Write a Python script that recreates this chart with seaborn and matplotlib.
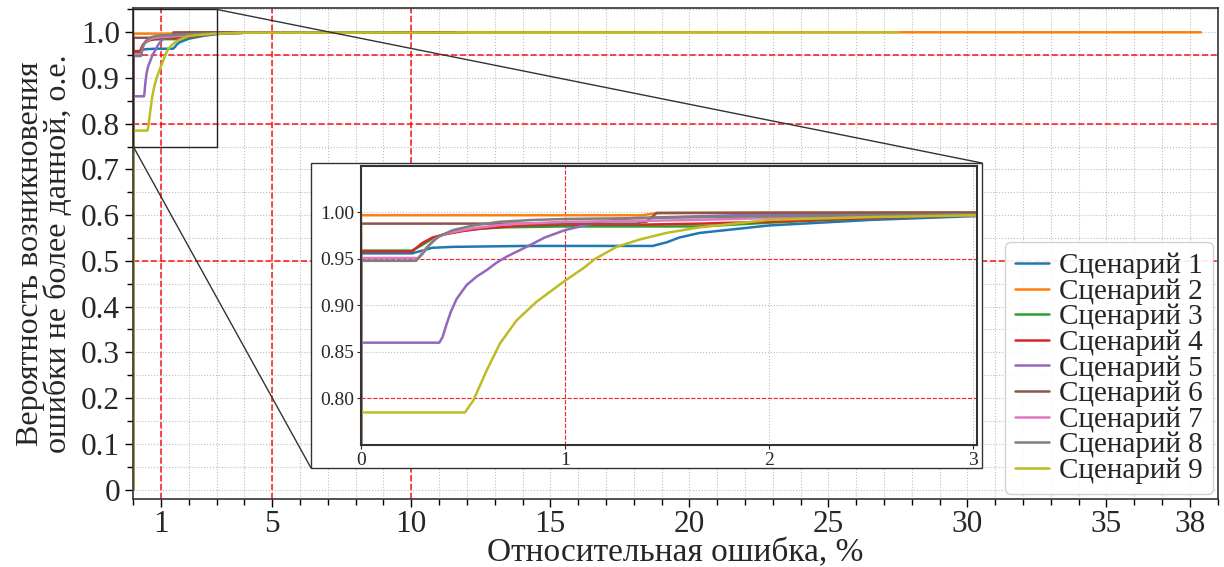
import numpy as np
import pandas as pd
import matplotlib
matplotlib.use("Agg")
import matplotlib.pyplot as plt
import seaborn as sns
from matplotlib.patches import Rectangle, ConnectionPatch
from matplotlib.ticker import MultipleLocator, FixedLocator, FixedFormatter

sns.set_style("white")
plt.rcParams["font.family"] = ["Liberation Serif", "DejaVu Serif"]

# ---------------- data ----------------
scenarios = [f"Сценарий {i}" for i in range(1, 10)]

s1_x = [0, 0, 0.25, 0.30, 0.35, 0.45, 0.80, 1.43, 1.50, 1.56, 1.66, 2.0, 2.5, 3.0, 3.5, 4.5, 12.0]
s1_y = [0, 0.956, 0.956, 0.959, 0.962, 0.963, 0.964, 0.964, 0.968, 0.973, 0.978, 0.986, 0.992, 0.996, 0.998, 1.0, 1.0]

s2_x = [0, 0, 1.38, 1.45, 2.0, 3.0, 38.4]
s2_y = [0, 0.997, 0.997, 0.9993, 0.9997, 1.0, 1.0]

s3_x = [0, 0, 0.25, 0.30, 0.35, 0.40, 0.45, 0.55, 0.70, 1.0, 1.66, 2.0, 2.5, 3.0, 4.0, 7.0]
s3_y = [0, 0.959, 0.959, 0.965, 0.972, 0.976, 0.979, 0.982, 0.984, 0.985, 0.985, 0.989, 0.994, 0.997, 0.999, 1.0]

s4_x = [0, 0, 0.25, 0.30, 0.35, 0.40, 0.50, 0.60, 0.80, 1.0, 1.4, 1.66, 2.0, 2.5, 3.0, 4.0, 9.0]
s4_y = [0, 0.958, 0.958, 0.967, 0.973, 0.976, 0.980, 0.983, 0.986, 0.987, 0.987, 0.988, 0.990, 0.994, 0.997, 0.999, 1.0]

s5_x = [0, 0, 0.384, 0.40, 0.42, 0.44, 0.469, 0.518, 0.567, 0.616, 0.665, 0.714, 0.812, 0.90, 1.0, 1.17, 1.335, 1.66, 2.0, 3.0, 6.0]
s5_y = [0, 0.860, 0.860, 0.866, 0.880, 0.893, 0.907, 0.922, 0.931, 0.938, 0.946, 0.9525, 0.963, 0.973, 0.981, 0.990, 0.994, 0.996, 0.998, 0.999, 1.0]

s6_x = [0, 0, 1.36, 1.37, 1.40, 1.45, 2.0, 3.0, 11.6]
s6_y = [0, 0.988, 0.988, 0.990, 0.990, 0.9995, 0.9998, 1.0, 1.0]

s7_x = [0, 0, 0.28, 0.32, 0.36, 0.40, 0.45, 0.55, 0.70, 1.0, 1.4, 1.66, 2.0, 3.0, 4.0, 8.0]
s7_y = [0, 0.951, 0.951, 0.962, 0.971, 0.976, 0.979, 0.983, 0.987, 0.990, 0.991, 0.992, 0.994, 0.997, 0.999, 1.0]

s8_x = [0, 0, 0.27, 0.30, 0.34, 0.38, 0.45, 0.55, 0.68, 0.85, 1.0, 1.4, 2.0, 3.0, 4.0, 9.2]
s8_y = [0, 0.948, 0.948, 0.955, 0.966, 0.974, 0.981, 0.986, 0.990, 0.992, 0.993, 0.994, 0.996, 0.998, 0.999, 1.0]

s9_x = [0, 0, 0.51, 0.551, 0.616, 0.681, 0.763, 0.861, 1.0, 1.09, 1.147, 1.253, 1.368, 1.498, 1.66, 2.0, 2.5, 3.0, 4.0, 27.5]
s9_y = [0, 0.785, 0.785, 0.798, 0.830, 0.859, 0.884, 0.904, 0.9266, 0.940, 0.950, 0.963, 0.971, 0.978, 0.984, 0.992, 0.995, 0.997, 0.999, 1.0]

xs = [s1_x, s2_x, s3_x, s4_x, s5_x, s6_x, s7_x, s8_x, s9_x]
ys = [s1_y, s2_y, s3_y, s4_y, s5_y, s6_y, s7_y, s8_y, s9_y]

x_ticks = [1, 5, 10, 15, 20, 25, 30, 35, 38]
y_ticks = [0, 0.1, 0.2, 0.3, 0.4, 0.5, 0.6, 0.7, 0.8, 0.9, 1.0]
y_tick_labels = ["0", "0.1", "0.2", "0.3", "0.4", "0.5", "0.6", "0.7", "0.8", "0.9", "1.0"]
inset_x_ticks = [0, 1, 2, 3]
inset_y_ticks = [0.80, 0.85, 0.90, 0.95, 1.00]
inset_y_labels = ["0.80", "0.85", "0.90", "0.95", "1.00"]
red_v = [1, 5, 10]
red_h = [0.5, 0.8, 0.95]

rows = []
for name, x, y in zip(scenarios, xs, ys):
    for xv, yv in zip(x, y):
        rows.append({"err": xv, "p": yv, "scenario": name})
df = pd.DataFrame(rows)

palette = dict(zip(scenarios, sns.color_palette("tab10", 9)))

# ---------------- figure ----------------
fig = plt.figure(figsize=(12.24, 5.67), dpi=100)
ax = fig.add_axes([0.1089, 0.1205, 0.8858, 0.8649])

grid_kw = dict(color="#bdbdbd", linestyle=":", linewidth=0.8)
ax.set_xlim(0, 39)
ax.set_ylim(-0.02, 1.0525)
ax.xaxis.set_major_locator(FixedLocator(x_ticks))
ax.xaxis.set_minor_locator(MultipleLocator(1))
ax.yaxis.set_major_locator(FixedLocator(y_ticks))
ax.yaxis.set_major_formatter(FixedFormatter(y_tick_labels))
ax.yaxis.set_minor_locator(MultipleLocator(0.05))
ax.grid(which="both", **grid_kw)
ax.set_axisbelow(True)

for v in red_v:
    ax.axvline(v, color="red", ls="--", lw=1.2, alpha=0.85, zorder=1.5)
for h in red_h:
    ax.axhline(h, color="red", ls="--", lw=1.2, alpha=0.85, zorder=1.5)

sns.lineplot(data=df, x="err", y="p", hue="scenario", palette=palette,
             estimator=None, sort=False, units="scenario", lw=1.8, ax=ax)

ax.tick_params(axis="both", which="major", direction="out", length=6, width=1,
               labelsize=22.5, bottom=True, left=True, color="black")
ax.tick_params(axis="x", which="major", pad=2)
ax.tick_params(axis="both", which="minor", direction="out", length=4, width=1,
               bottom=True, left=True, color="black")
for sp in ax.spines.values():
    sp.set_color("#333333")
    sp.set_linewidth(1.2)

ax.set_xlabel("Относительная ошибка, %", fontsize=24, labelpad=-1)
ax.set_ylabel("Вероятность возникновения\nошибки не более данной, о.е.",
              fontsize=23, linespacing=0.95, labelpad=6)

sns.move_legend(ax, "lower right", title=None, fontsize=21, labelspacing=-0.03,
                handlelength=1.15, handletextpad=0.35, borderaxespad=0.15,
                borderpad=0.35, frameon=True, fancybox=True, framealpha=0.9,
                edgecolor="#cccccc")

# zoom rectangle in main axes
ax.add_patch(Rectangle((0, 0.75), 3, 0.30, fill=False, ec="#222222", lw=1.0,
                       clip_on=False, zorder=5))

# outer white box behind the inset
bx0, by0, bw, bh = 0.2541, 0.1746, 0.5482, 0.5379
box = Rectangle((bx0, by0), bw, bh, transform=fig.transFigure, facecolor="white",
                edgecolor="#333333", lw=1.0, zorder=1)
fig.add_artist(box)

# connectors
c1 = ConnectionPatch(xyA=(3, 1.05), coordsA=ax.transData, xyB=(bx0 + bw, by0 + bh),
                     coordsB=fig.transFigure, color="#333333", lw=1.0, zorder=1)
c2 = ConnectionPatch(xyA=(0, 0.75), coordsA=ax.transData, xyB=(bx0, by0),
                     coordsB=fig.transFigure, color="#333333", lw=1.0, zorder=1)
fig.add_artist(c1)
fig.add_artist(c2)

# inset axes
axi = fig.add_axes([0.2949, 0.2152, 0.5033, 0.4921])
axi.set_zorder(2)
axi.set_facecolor("white")
axi.set_xlim(0, 3.02)
axi.set_ylim(0.75, 1.05)
axi.xaxis.set_major_locator(FixedLocator(inset_x_ticks))
axi.yaxis.set_major_locator(FixedLocator(inset_y_ticks))
axi.yaxis.set_major_formatter(FixedFormatter(inset_y_labels))
axi.grid(which="major", **grid_kw)
axi.set_axisbelow(True)
axi.axvline(1, color="red", ls="--", lw=0.8, alpha=0.85, zorder=1.5)
for h in [0.8, 0.95]:
    axi.axhline(h, color="red", ls="--", lw=0.8, alpha=0.85, zorder=1.5)

sns.lineplot(data=df, x="err", y="p", hue="scenario", palette=palette,
             estimator=None, sort=False, units="scenario", lw=1.8, ax=axi, legend=False)
axi.set_xlabel("")
axi.set_ylabel("")
axi.tick_params(axis="both", which="major", direction="out", length=3, width=0.8,
                labelsize=14, pad=2, bottom=True, left=True)
for sp in axi.spines.values():
    sp.set_color("#333333")
    sp.set_linewidth(1.5)

fig.savefig("out.png", dpi=100)
